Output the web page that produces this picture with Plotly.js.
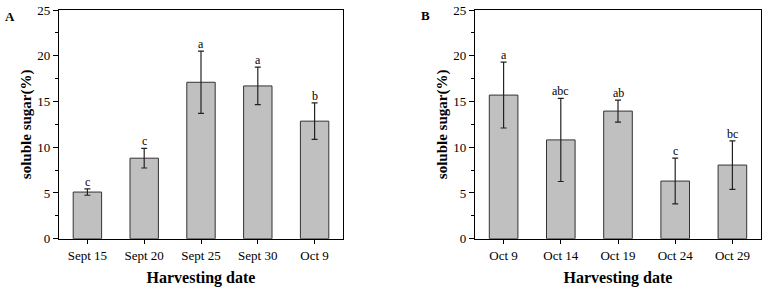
<!DOCTYPE html>
<html><head><meta charset="utf-8">
<script src="https://cdn.plot.ly/plotly-3.0.1.min.js"></script>
<style>html,body{margin:0;padding:0;background:#fff}#c{width:768px;height:287px}</style>
</head><body><div id="c"></div>
<script>
const datesA = ["Sept 15", "Sept 20", "Sept 25", "Sept 30", "Oct 9"];
const sugarA = [5.1, 8.8, 17.1, 16.7, 12.85];
const errA = [0.35, 1.07, 3.4, 2.05, 2.0];
const lettersA = ["c", "c", "a", "a", "b"];

const datesB = ["Oct 9", "Oct 14", "Oct 19", "Oct 24", "Oct 29"];
const sugarB = [15.7, 10.8, 13.95, 6.3, 8.05];
const errB = [3.6, 4.55, 1.2, 2.5, 2.65];
const lettersB = ["a", "abc", "ab", "c", "bc"];

const serif = "Liberation Serif, Times New Roman, serif";
function barTrace(x, y, e, xa, ya) {
  return {
    type: "bar", x: x, y: y, xaxis: xa, yaxis: ya, width: 0.5,
    marker: {color: "#c0c0c0", line: {color: "#333", width: 1}},
    error_y: {type: "data", array: e, visible: true, color: "#222", thickness: 1.2, width: 3},
    hoverinfo: "none"
  };
}
const yTicks = {
  range: [0, 25], tickvals: [0, 5, 10, 15, 20, 25], ticks: "outside", ticklen: 5, tickwidth: 1,
  minor: {dtick: 2.5, ticks: "outside", ticklen: 3, tickwidth: 1, tickcolor: "#000"},
  showline: true, linecolor: "#000", linewidth: 1.2, mirror: true, showgrid: false, zeroline: false,
  tickfont: {family: serif, size: 13, color: "#000"}, tickcolor: "#000",
  title: {text: "soluble sugar(%)", font: {family: serif, size: 15, color: "#000", weight: "bold"}, standoff: 2}
};
const xCommon = {
  showline: true, linecolor: "#000", linewidth: 1.2, mirror: true, ticks: "outside", ticklen: 4, tickwidth: 1,
  tickcolor: "#000", showgrid: false, tickfont: {family: serif, size: 13, color: "#000"},
  title: {text: "Harvesting date", font: {family: serif, size: 16, color: "#000", weight: "bold"}, standoff: 10}
};
const ann = [];
datesA.forEach((d, i) => ann.push({x: d, y: sugarA[i] + errA[i], xref: "x", yref: "y", text: lettersA[i], showarrow: false, yanchor: "bottom", yshift: -2, font: {family: serif, size: 12, color: "#000"}}));
datesB.forEach((d, i) => ann.push({x: d, y: sugarB[i] + errB[i], xref: "x2", yref: "y2", text: lettersB[i], showarrow: false, yanchor: "bottom", yshift: -2, font: {family: serif, size: 12, color: "#000"}}));
ann.push({xref: "paper", yref: "paper", x: 10/768, y: 1 - 17/287, text: "A", showarrow: false, xanchor: "center", yanchor: "middle", font: {family: serif, size: 13, color: "#000", weight: "bold"}});
ann.push({xref: "paper", yref: "paper", x: 425/768, y: 1 - 16/287, text: "B", showarrow: false, xanchor: "center", yanchor: "middle", font: {family: serif, size: 13, color: "#000", weight: "bold"}});

const layout = {
  width: 768, height: 287, margin: {l: 0, r: 0, t: 0, b: 0}, showlegend: false,
  paper_bgcolor: "#fff", plot_bgcolor: "#fff",
  xaxis: Object.assign({}, xCommon, {domain: [59/768, 343/768], anchor: "y"}),
  yaxis: Object.assign({}, yTicks, {domain: [1 - 238.7/287, 1 - 10/287], anchor: "x"}),
  xaxis2: Object.assign({}, xCommon, {domain: [475/768, 761/768], anchor: "y2"}),
  yaxis2: Object.assign({}, yTicks, {domain: [1 - 238.7/287, 1 - 10/287], anchor: "x2"}),
  annotations: ann
};
Plotly.newPlot("c", [barTrace(datesA, sugarA, errA, "x", "y"), barTrace(datesB, sugarB, errB, "x2", "y2")], layout, {displayModeBar: false, staticPlot: true});
</script></body></html>
